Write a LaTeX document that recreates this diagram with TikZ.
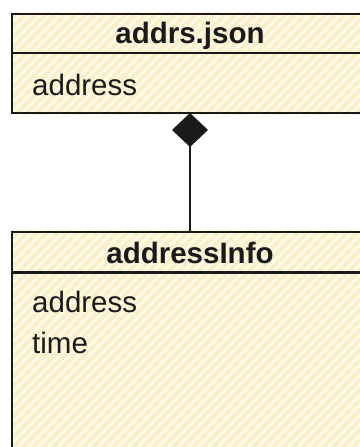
\documentclass[tikz,border=0pt]{standalone}
\usepackage{fontspec}
\setmainfont{Liberation Sans}
\usetikzlibrary{arrows.meta,backgrounds,calc}
\definecolor{ink}{HTML}{1A1A1A}
\definecolor{paper}{HTML}{FEFAEC}
\definecolor{stripe}{HTML}{FBEFC8}
\tikzset{
  classbox/.style={draw=ink, line width=2.4pt, rectangle, inner sep=0pt},
  divider/.style={draw=ink, line width=2.2pt},
  title/.style={anchor=base, inner sep=0pt, font=\fontsize{29.5}{34}\selectfont\bfseries, text=ink},
  field/.style={anchor=base west, inner sep=0pt, font=\fontsize{29.5}{34}\selectfont, text=ink},
  hatch/.style={draw=stripe, line width=4pt},
  link/.style={draw=ink, line width=2.2pt},
}
\newcommand{\hatchbox}[1]{%
  \begin{scope}
    \clip (#1.north west) rectangle (#1.south east);
    \fill[paper] (#1.north west) rectangle (#1.south east);
    \foreach \k in {0,10,...,1100}
      \draw[hatch] (\k,0) -- (\k-600,600);
  \end{scope}}
\begin{document}
\begin{tikzpicture}[x=1pt,y=-1pt]
  \useasboundingbox (0,0) rectangle (359,447);

  % class boxes (right side runs past the frame)
  \node[classbox, minimum width=370pt, minimum height=99pt] (json) at (197,63.5) {};
  \node[classbox, minimum width=370pt, minimum height=240pt] (info) at (197,352) {};

  \begin{scope}[on background layer]
    \fill[white] (-5,-5) rectangle (400,480);
    \hatchbox{json}
    \hatchbox{info}
  \end{scope}

  % compartment dividers
  \coordinate (jsonL) at (12,53);
  \coordinate (jsonR) at (382,53);
  \coordinate (infoL) at (12,272.5);
  \coordinate (infoR) at (382,272.5);
  \draw[divider] (jsonL) -- (jsonR);
  \draw[divider] (infoL) -- (infoR);

  % texts
  \node[title] (jsonT) at (190,43) {addrs.json};
  \node[field] (jsonA) at (32,95) {address};
  \node[title] (infoT) at (190,263) {addressInfo};
  \node[field] (infoA) at (32,312.5) {address};
  \node[field] (infoB) at (32,353) {time};

  % composition link
  \coordinate (linkTop) at (190,113);
  \coordinate (linkBot) at (190,232);
  \draw[link, -{Diamond[length=34pt,width=36pt,fill=ink]}] (linkBot) -- (linkTop);
\end{tikzpicture}
\end{document}
